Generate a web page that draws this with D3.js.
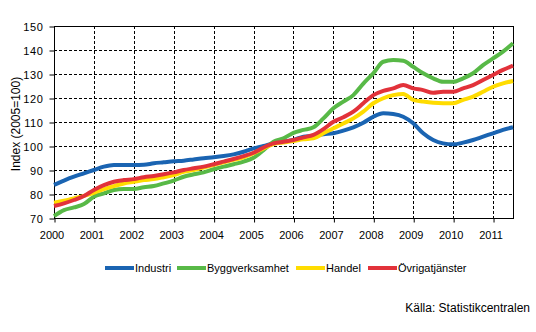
<!DOCTYPE html>
<html>
<head>
<meta charset="utf-8">
<script src="https://cdn.jsdelivr.net/npm/d3@7"></script>
<style>
  body { margin: 0; background: #fff; }
  text { font-family: "Liberation Sans", Arial, sans-serif; fill: #000; }
</style>
</head>
<body>
<div id="chart"></div>
<script>
// quarterly readings, 2000Q1 .. 2011 mid-year
const startYear = 2000;
const endYear = 2011.5;
const yearTicks = [2000, 2001, 2002, 2003, 2004, 2005, 2006, 2007, 2008, 2009, 2010, 2011];
const valueTicks = [70, 80, 90, 100, 110, 120, 130, 140, 150];

const industri = [83.8, 85.6, 87.2, 88.6, 90.0, 91.4, 92.1, 92.1, 92.1, 92.2, 92.8, 93.2,
  93.6, 93.9, 94.4, 94.9, 95.3, 95.8, 96.5, 97.6, 99.0, 100.0, 101.1, 101.8,
  102.5, 103.9, 104.2, 104.9, 105.3, 106.4, 107.8, 109.7, 112.2, 113.6, 113.3, 112.2,
  109.5, 105.3, 102.5, 101.1, 100.7, 101.4, 102.5, 103.9, 105.3, 106.7, 107.8];
const bygg = [70.8, 73.3, 74.4, 75.8, 78.9, 80.3, 81.7, 82.1, 82.1, 82.8, 83.3, 84.4,
  85.6, 87.2, 88.2, 89.0, 90.3, 91.4, 92.4, 93.5, 95.1, 98.3, 101.8, 103.2,
  105.5, 106.7, 107.8, 111.5, 115.7, 118.5, 121.2, 126.0, 130.3, 135.1, 135.8, 135.5,
  133.0, 130.3, 128.2, 126.8, 126.8, 128.2, 130.3, 133.7, 136.5, 139.3, 142.8];
const handel = [76.4, 77.2, 78.2, 79.2, 80.5, 82.0, 83.3, 84.4, 85.1, 85.8, 86.2, 87.0,
  87.9, 89.2, 90.0, 91.0, 92.1, 93.2, 94.2, 95.3, 97.0, 99.0, 100.8, 101.5,
  102.1, 102.8, 103.2, 105.3, 107.4, 109.4, 111.5, 114.3, 117.8, 119.9, 121.2, 121.7,
  119.2, 118.5, 118.0, 117.8, 117.8, 119.2, 120.6, 122.6, 124.7, 126.1, 127.1];
const ovriga = [75.0, 76.1, 77.5, 79.2, 81.7, 83.7, 85.1, 85.8, 86.2, 87.0, 87.5, 88.2,
  89.0, 90.0, 90.7, 91.4, 92.4, 93.5, 94.6, 95.8, 97.2, 99.4, 101.1, 101.8,
  102.5, 103.6, 104.6, 107.0, 110.1, 112.0, 114.3, 117.8, 121.2, 123.0, 124.0, 125.4,
  124.0, 123.3, 122.2, 122.6, 122.6, 124.0, 125.4, 127.5, 129.6, 131.7, 133.5];

const seriesNames = ["Industri", "Byggverksamhet", "Handel", "Övrigatjänster"];
const seriesColors = ["#1a64b2", "#58b947", "#ffdc00", "#e2323a"];
const seriesValues = [industri, bygg, handel, ovriga];

const W = 536, H = 332;
const margin = { top: 26, right: 23, bottom: 114, left: 54 };

const svg = d3.select("#chart").append("svg")
    .attr("width", W)
    .attr("height", H);

const x = d3.scaleLinear()
    .domain([startYear, endYear])
    .range([margin.left, W - margin.right]);
const y = d3.scaleLinear()
    .domain([70, 150])
    .range([H - margin.bottom, margin.top]);

// grid
svg.append("g").selectAll("line")
    .data(valueTicks.slice(1, -1))
    .enter().append("line")
    .attr("x1", x.range()[0]).attr("x2", x.range()[1])
    .attr("y1", d => y(d) + 0.5).attr("y2", d => y(d) + 0.5)
    .attr("stroke", "#000").attr("stroke-dasharray", "3,2");
svg.append("g").selectAll("line")
    .data(yearTicks.slice(1))
    .enter().append("line")
    .attr("x1", d => Math.round(x(d)) + 0.5).attr("x2", d => Math.round(x(d)) + 0.5)
    .attr("y1", y.range()[1]).attr("y2", y.range()[0])
    .attr("stroke", "#000").attr("stroke-dasharray", "3,2");

// axes
const yAxis = svg.append("g")
    .attr("transform", `translate(${margin.left + 0.5},0.5)`)
    .call(d3.axisLeft(y).tickValues(valueTicks).tickSize(5).tickPadding(6));
yAxis.select(".domain").remove();
yAxis.selectAll("text")
    .attr("font-size", 11).attr("font-family", '"Liberation Sans", Arial, sans-serif')
    .attr("letter-spacing", 0.6);

const xAxis = svg.append("g")
    .attr("transform", `translate(0.5,${H - margin.bottom + 0.5})`)
    .call(d3.axisBottom(x).tickValues(yearTicks).tickFormat(d3.format("d")).tickSize(4).tickPadding(9));
xAxis.select(".domain").remove();
xAxis.selectAll("text")
    .attr("font-size", 11).attr("font-family", '"Liberation Sans", Arial, sans-serif')
    .attr("dx", -3);

// frame
svg.append("rect")
    .attr("x", margin.left + 0.5).attr("y", margin.top + 0.5)
    .attr("width", x.range()[1] - x.range()[0])
    .attr("height", y.range()[0] - y.range()[1])
    .attr("fill", "none").attr("stroke", "#000");

// series
const line = d3.line()
    .x((d, i) => x(startYear + i / 4))
    .y(d => y(d))
    .curve(d3.curveMonotoneX);

svg.append("g").selectAll("path")
    .data(seriesValues)
    .enter().append("path")
    .attr("d", line)
    .attr("fill", "none")
    .attr("stroke", (d, i) => seriesColors[i])
    .attr("stroke-width", 4)
    .attr("stroke-linejoin", "round");

svg.append("text")
    .attr("transform", "translate(20,124) rotate(-90)")
    .attr("text-anchor", "middle")
    .attr("font-size", 12)
    .text("Index (2005=100)");

// legend
const legendX = [105, 177, 296, 368];
const legendY = 268;
const legend = svg.append("g").selectAll("g")
    .data(seriesNames)
    .enter().append("g")
    .attr("transform", (d, i) => `translate(${legendX[i]},${legendY})`);
legend.append("line")
    .attr("x1", 0).attr("x2", 29)
    .attr("stroke", (d, i) => seriesColors[i])
    .attr("stroke-width", 4);
legend.append("text")
    .attr("x", 30).attr("dy", "0.35em")
    .attr("font-size", 11)
    .text(d => d);

svg.append("text")
    .attr("x", 530).attr("y", 312)
    .attr("text-anchor", "end")
    .attr("font-size", 12)
    .text("Källa: Statistikcentralen");
</script>
</body>
</html>
